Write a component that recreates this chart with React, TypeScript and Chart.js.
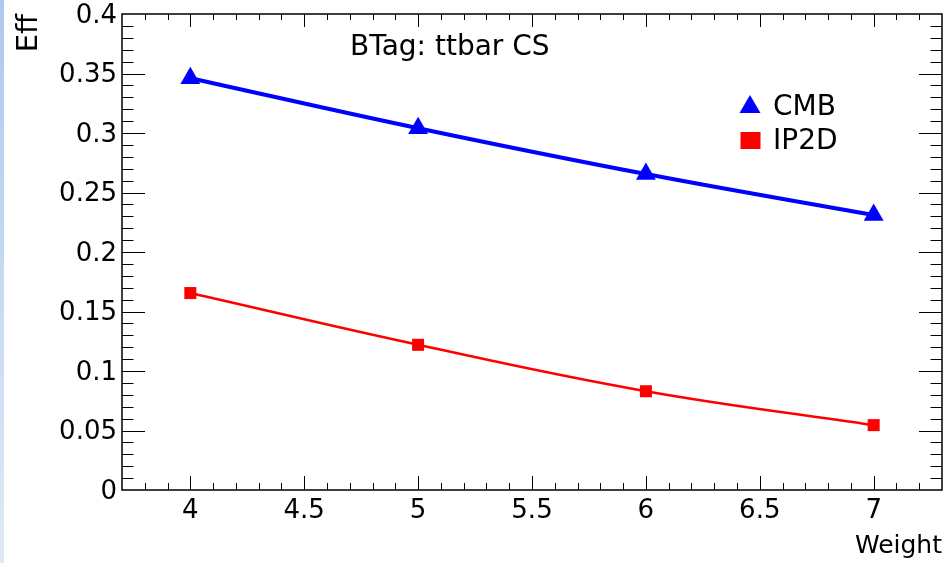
import React, { useEffect, useRef } from 'react';
import { Chart, registerables } from 'chart.js';

Chart.register(...registerables);

// ---- data ----
const weights = [4, 5, 6, 7];
const cmbEff = [0.346, 0.304, 0.2655, 0.231];
const ip2dEff = [0.1655, 0.122, 0.083, 0.0545];
const seriesLabels = ['CMB', 'IP2D'];
const xTickValues = [4, 4.5, 5, 5.5, 6, 6.5, 7];
const xTickLabels = ['4', '4.5', '5', '5.5', '6', '6.5', '7'];
const yTickValues = [0, 0.05, 0.1, 0.15, 0.2, 0.25, 0.3, 0.35, 0.4];
const yTickLabels = ['0', '0.05', '0.1', '0.15', '0.2', '0.25', '0.3', '0.35', '0.4'];
const xRange = [3.7, 7.3];
const yRange = [0, 0.4];
const xMinorStep = 0.1;
const yMinorStep = 0.01;
const chartTitle = 'BTag: ttbar CS';
const xTitle = 'Weight';
const yTitle = 'Eff';

const FONT = 'DejaVu Sans';
const BLUE = '#0000ff';
const RED = '#ff0000';

const backgroundPlugin = {
  id: 'bgStrip',
  beforeDraw(chart: any) {
    const { ctx, width, height } = chart;
    ctx.save();
    ctx.fillStyle = '#ffffff';
    ctx.fillRect(0, 0, width, height);
    const g = ctx.createLinearGradient(0, 0, 0, height);
    g.addColorStop(0, '#aec9ef');
    g.addColorStop(1, '#e0e9f5');
    ctx.fillStyle = g;
    ctx.fillRect(0, 0, 4, height);
    ctx.restore();
  },
};

const framePlugin = {
  id: 'rootFrame',
  beforeDatasetsDraw(chart: any) {
    const { ctx, chartArea: a, scales } = chart;
    const xs = scales.x;
    const ys = scales.y;
    ctx.save();
    ctx.strokeStyle = '#000';
    ctx.lineWidth = 1;
    ctx.beginPath();
    const nx = Math.round((xRange[1] - xRange[0]) / xMinorStep);
    for (let i = 1; i < nx; i++) {
      const v = +(xRange[0] + i * xMinorStep).toFixed(4);
      const major = xTickValues.some((t) => Math.abs(t - v) < 1e-6);
      const px = Math.round(xs.getPixelForValue(v)) + 0.5;
      ctx.moveTo(px, a.bottom);
      ctx.lineTo(px, a.bottom - (major ? 14 : 7));
      ctx.moveTo(px, a.top);
      ctx.lineTo(px, a.top + (major ? 13 : 6));
    }
    const ny = Math.round((yRange[1] - yRange[0]) / yMinorStep);
    for (let i = 1; i < ny; i++) {
      const v = +(yRange[0] + i * yMinorStep).toFixed(4);
      const major = yTickValues.some((t) => Math.abs(t - v) < 1e-6);
      const len = major ? 23 : 11.5;
      const py = Math.round(ys.getPixelForValue(v)) + 0.5;
      ctx.moveTo(a.left, py);
      ctx.lineTo(a.left + len, py);
      ctx.moveTo(a.right, py);
      ctx.lineTo(a.right - len, py);
    }
    ctx.stroke();
    ctx.lineWidth = 1.5;
    ctx.strokeRect(a.left, a.top, a.right - a.left, a.bottom - a.top);
    ctx.restore();
  },
};

const textPlugin = {
  id: 'rootTexts',
  afterDraw(chart: any) {
    const { ctx } = chart;
    ctx.save();
    ctx.fillStyle = '#000';
    ctx.textBaseline = 'alphabetic';
    ctx.textAlign = 'left';
    ctx.font = `28px "${FONT}"`;
    ctx.fillText(chartTitle, 350, 55);

    const ds = chart.data.datasets;
    ctx.fillStyle = ds[0].pointBackgroundColor;
    ctx.beginPath();
    ctx.moveTo(750, 95);
    ctx.lineTo(760.5, 113);
    ctx.lineTo(739.5, 113);
    ctx.closePath();
    ctx.fill();
    ctx.fillStyle = ds[1].pointBackgroundColor;
    ctx.fillRect(740.5, 132, 20, 17);

    ctx.fillStyle = '#000';
    ctx.font = `28px "${FONT}"`;
    ctx.fillText(ds[0].label, 773, 114.5);
    ctx.fillText(ds[1].label, 773, 149);
    ctx.restore();
  },
};

const noPad = (s: any) => {
  s.paddingTop = 0;
  s.paddingBottom = 0;
  s.paddingLeft = 0;
  s.paddingRight = 0;
};

export default function App() {
  const ref = useRef<HTMLCanvasElement | null>(null);

  useEffect(() => {
    document.body.style.margin = '0';
    const canvas = ref.current;
    if (!canvas) return;
    const chart = new Chart(canvas, {
      type: 'line',
      data: {
        datasets: [
          {
            label: seriesLabels[0],
            data: weights.map((w, i) => ({ x: w, y: cmbEff[i] })),
            borderColor: BLUE,
            backgroundColor: BLUE,
            borderWidth: 4,
            pointStyle: 'triangle',
            pointRadius: 11.5,
            pointHoverRadius: 11.5,
            pointBackgroundColor: BLUE,
            pointBorderColor: BLUE,
            pointBorderWidth: 0,
            tension: 0.4,
            fill: false,
          },
          {
            label: seriesLabels[1],
            data: weights.map((w, i) => ({ x: w, y: ip2dEff[i] })),
            borderColor: RED,
            backgroundColor: RED,
            borderWidth: 2.5,
            pointStyle: 'rect',
            pointRadius: 8.5,
            pointHoverRadius: 8.5,
            pointBackgroundColor: RED,
            pointBorderColor: RED,
            pointBorderWidth: 0,
            tension: 0.4,
            fill: false,
          },
        ],
      },
      options: {
        animation: false,
        responsive: false,
        maintainAspectRatio: false,
        events: [],
        layout: { autoPadding: false, padding: { top: 14, right: 4, bottom: 0, left: 0 } },
        plugins: {
          legend: { display: false },
          title: { display: false },
          tooltip: { enabled: false },
        },
        scales: {
          x: {
            type: 'linear',
            min: xRange[0],
            max: xRange[1],
            afterBuildTicks: (s: any) => {
              s.ticks = xTickValues.map((v) => ({ value: v }));
            },
            afterFit: (s: any) => {
              s.height = 73;
              noPad(s);
            },
            grid: { display: false, drawTicks: false },
            border: { display: false },
            ticks: {
              autoSkip: false,
              maxRotation: 0,
              padding: 8,
              color: '#000',
              font: { family: FONT, size: 26, lineHeight: 1 },
              callback: (_v: any, i: number) => xTickLabels[i],
            },
            title: {
              display: true,
              text: xTitle,
              align: 'end',
              color: '#000',
              font: { family: FONT, size: 25 },
              padding: { top: 0, bottom: 2 },
            },
          },
          y: {
            type: 'linear',
            min: yRange[0],
            max: yRange[1],
            afterBuildTicks: (s: any) => {
              s.ticks = yTickValues.map((v) => ({ value: v }));
            },
            afterFit: (s: any) => {
              s.width = 122;
              noPad(s);
            },
            grid: { display: false, drawTicks: false },
            border: { display: false },
            ticks: {
              autoSkip: false,
              padding: 5,
              labelOffset: 2,
              color: '#000',
              font: { family: FONT, size: 26, lineHeight: 1 },
              callback: (_v: any, i: number) => yTickLabels[i],
            },
            title: {
              display: true,
              text: yTitle,
              align: 'end',
              color: '#000',
              font: { family: FONT, size: 29 },
              padding: { top: 12, bottom: 0 },
            },
          },
        },
      },
      plugins: [backgroundPlugin, framePlugin, textPlugin],
    } as any);
    return () => chart.destroy();
  }, []);

  return (
    <div style={{ width: 946, height: 563 }}>
      <canvas ref={ref} width={946} height={563} style={{ display: 'block' }} />
    </div>
  );
}
